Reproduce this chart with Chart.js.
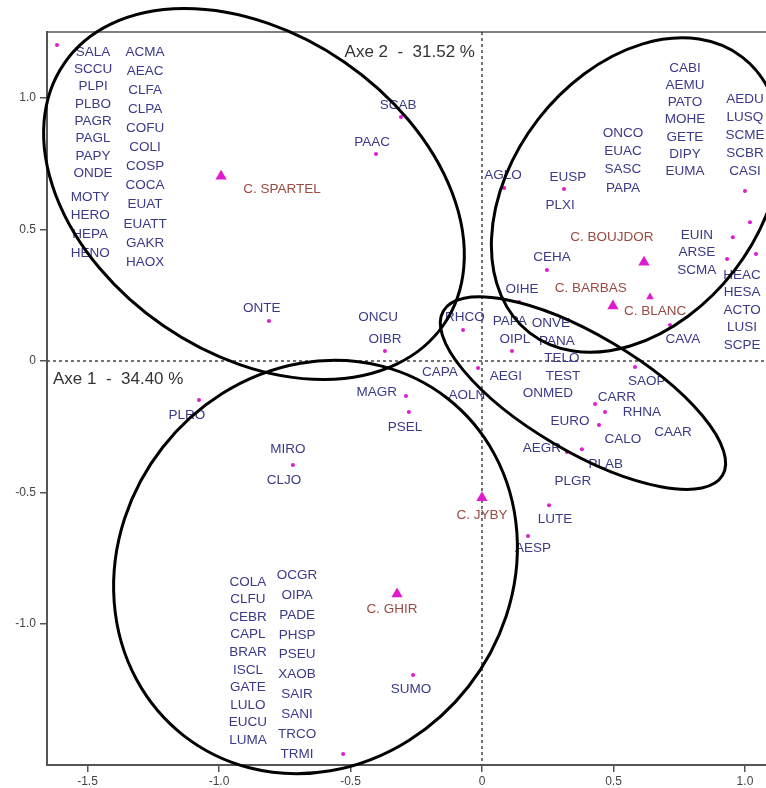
<!DOCTYPE html>
<html>
<head>
<meta charset="utf-8">
<script src="https://cdn.jsdelivr.net/npm/chart.js@4/dist/chart.umd.min.js"></script>
<style>
  body { margin: 0; background: #fff; }
  #wrap { width: 766px; height: 788px; }
</style>
</head>
<body>
<div id="wrap"><canvas id="afc" width="766" height="788"></canvas></div>
<script>
// species points (axe 1, axe 2)
const dotX = [-1.616, -0.308, -0.403, -0.810, -0.369, -0.289, -0.278, -1.076, -0.719, 0.175, -0.262, -0.528,
              0.255, 0.323, 0.380, 0.247, 0.141, -0.072, 0.114, -0.015, 0.084, 0.312,
              1.000, 1.019, 0.954, 1.042, 0.932, 0.715, 0.582, 0.430, 0.468, 0.445];
const dotY = [1.202, 0.928, 0.787, 0.152, 0.038, -0.133, -0.194, -0.148, -0.395, -0.665, -1.194, -1.494,
              -0.548, -0.346, -0.335, 0.346, 0.224, 0.118, 0.038, -0.027, 0.658, 0.654,
              0.646, 0.528, 0.471, 0.407, 0.388, 0.137, -0.023, -0.163, -0.194, -0.243];

// sites (capes)
const siteNames = ['C. SPARTEL', 'C. BOUJDOR', 'C. BARBAS', 'C. BLANC', 'C. JYBY', 'C. GHIR'];
const siteX = [-0.992, 0.616, 0.498, 0.639, 0.000, -0.323];
const siteY = [0.703, 0.376, 0.209, 0.243, -0.520, -0.886];
const siteBig = [true, true, true, false, true, true];
const siteLabelX = [-0.760, 0.494, 0.414, 0.658, 0.000, -0.342];
const siteLabelY = [0.654, 0.471, 0.278, 0.190, -0.586, -0.943];

// single species labels
const labelText = ['SCAB', 'PAAC', 'ONTE', 'ONCU', 'OIBR', 'MAGR', 'PSEL', 'PLRO', 'MIRO', 'CLJO', 'SUMO',
                   'AESP', 'LUTE', 'PLGR', 'PLAB', 'AEGR', 'CALO', 'CAAR', 'EURO', 'RHNA', 'CARR', 'SAOP',
                   'ONMED', 'AEGI', 'TEST', 'TELO', 'PANA', 'OIPL', 'PAPA', 'ONVE', 'RHCO', 'CAPA', 'AOLN',
                   'OIHE', 'CEHA', 'CAVA', 'AGLO', 'EUSP', 'PLXI'];
const labelX = [-0.319, -0.418, -0.837, -0.395, -0.369, -0.400, -0.293, -1.122, -0.738, -0.753, -0.270,
                0.194, 0.278, 0.346, 0.471, 0.228, 0.536, 0.726, 0.335, 0.608, 0.513, 0.627,
                0.251, 0.091, 0.308, 0.304, 0.285, 0.125, 0.106, 0.262, -0.065, -0.160, -0.057,
                0.152, 0.266, 0.764, 0.080, 0.327, 0.297];
const labelY = [0.973, 0.833, 0.200, 0.167, 0.084, -0.118, -0.251, -0.205, -0.335, -0.452, -1.247,
                -0.711, -0.601, -0.456, -0.392, -0.331, -0.297, -0.270, -0.228, -0.194, -0.137, -0.076,
                -0.122, -0.057, -0.057, 0.011, 0.076, 0.084, 0.152, 0.144, 0.167, -0.042, -0.130,
                0.274, 0.395, 0.084, 0.707, 0.700, 0.593];

// stacked label columns (superimposed species)
const stackNames = [
  ['SALA', 'SCCU', 'PLPI', 'PLBO', 'PAGR', 'PAGL', 'PAPY', 'ONDE'],
  ['MOTY', 'HERO', 'HEPA', 'HENO'],
  ['ACMA', 'AEAC', 'CLFA', 'CLPA', 'COFU', 'COLI', 'COSP', 'COCA', 'EUAT', 'EUATT', 'GAKR', 'HAOX'],
  ['COLA', 'CLFU', 'CEBR', 'CAPL', 'BRAR', 'ISCL', 'GATE', 'LULO', 'EUCU', 'LUMA'],
  ['OCGR', 'OIPA', 'PADE', 'PHSP', 'PSEU', 'XAOB', 'SAIR', 'SANI', 'TRCO', 'TRMI'],
  ['CABI', 'AEMU', 'PATO', 'MOHE', 'GETE', 'DIPY', 'EUMA'],
  ['ONCO', 'EUAC', 'SASC', 'PAPA'],
  ['AEDU', 'LUSQ', 'SCME', 'SCBR', 'CASI'],
  ['EUIN', 'ARSE', 'SCMA'],
  ['HEAC', 'HESA', 'ACTO', 'LUSI', 'SCPE']
];
const stackX = [-1.479, -1.490, -1.281, -0.890, -0.703, 0.772, 0.536, 1.000, 0.817, 0.989];
const stackTop = [1.175, 0.624, 1.175, -0.840, -0.814, 1.114, 0.867, 0.996, 0.479, 0.327];
const stackStep = [0.0658, 0.0710, 0.0726, 0.0669, 0.0757, 0.0654, 0.0696, 0.0684, 0.0665, 0.0665];

// ellipses: centre, semi axes, angle (deg) in axis units
const ellCX = [-0.867, 0.586, 0.384, -0.633];
const ellCY = [0.635, 0.631, -0.122, -0.783];
const ellA = [0.876, 0.662, 0.616, 0.814];
const ellB = [0.608, 0.471, 0.221, 0.738];
const ellAngle = [-34.5, 52.3, -30.5, 52];

const xTicks = [-1.5, -1.0, -0.5, 0, 0.5, 1.0];
const yTicks = [-1.0, -0.5, 0, 0.5, 1.0];

const FONT = '"Liberation Sans", Arial, sans-serif';
const NAVY = '#3a3a88';
const BROWN = '#9a4a40';
const PINK = '#e01ad0';

const overlay = {
  id: 'overlay',
  beforeDatasetsDraw(chart) {
    const { ctx, chartArea: a, scales: { x, y } } = chart;
    ctx.save();
    ctx.strokeStyle = '#555';
    ctx.lineWidth = 1.5;
    ctx.beginPath();
    ctx.moveTo(a.left, a.top);
    ctx.lineTo(a.right, a.top);
    ctx.stroke();
    ctx.setLineDash([3, 3]);
    ctx.strokeStyle = '#444';
    ctx.beginPath();
    ctx.moveTo(x.getPixelForValue(0), a.top);
    ctx.lineTo(x.getPixelForValue(0), a.bottom);
    ctx.moveTo(a.left, y.getPixelForValue(0));
    ctx.lineTo(a.right, y.getPixelForValue(0));
    ctx.stroke();
    ctx.setLineDash([]);

    ctx.fillStyle = '#333';
    ctx.font = '17px ' + FONT;
    ctx.textBaseline = 'middle';
    ctx.textAlign = 'right';
    ctx.fillText('Axe 2  -  31.52 %', x.getPixelForValue(0) - 7, a.top + 20);
    ctx.textAlign = 'left';
    ctx.fillText('Axe 1  -  34.40 %', a.left + 6, y.getPixelForValue(0) + 18);
    ctx.restore();
  },
  afterDatasetsDraw(chart) {
    const { ctx, scales: { x, y } } = chart;
    ctx.save();
    ctx.font = '13.5px ' + FONT;
    ctx.textAlign = 'center';
    ctx.textBaseline = 'middle';
    ctx.fillStyle = NAVY;
    labelText.forEach((t, i) => {
      ctx.fillText(t, x.getPixelForValue(labelX[i]), y.getPixelForValue(labelY[i]));
    });
    stackNames.forEach((names, s) => {
      names.forEach((t, k) => {
        ctx.fillText(t, x.getPixelForValue(stackX[s]), y.getPixelForValue(stackTop[s] - k * stackStep[s]));
      });
    });
    ctx.fillStyle = BROWN;
    siteNames.forEach((t, i) => {
      ctx.fillText(t, x.getPixelForValue(siteLabelX[i]), y.getPixelForValue(siteLabelY[i]));
    });

    // ellipses
    const kx = x.getPixelForValue(1) - x.getPixelForValue(0);
    const ky = y.getPixelForValue(0) - y.getPixelForValue(1);
    ctx.strokeStyle = '#000';
    ctx.lineWidth = 3;
    ellCX.forEach((cx, i) => {
      ctx.beginPath();
      ctx.ellipse(x.getPixelForValue(cx), y.getPixelForValue(ellCY[i]),
                  ellA[i] * kx, ellB[i] * ky, -ellAngle[i] * Math.PI / 180, 0, 2 * Math.PI);
      ctx.stroke();
    });
    ctx.restore();
  }
};

const fmt = v => (v === 0 ? '0' : v.toFixed(1));

new Chart(document.getElementById('afc'), {
  type: 'scatter',
  data: {
    datasets: [{
      data: dotX.map((v, i) => ({ x: v, y: dotY[i] })),
      pointStyle: 'circle',
      pointRadius: 2,
      backgroundColor: PINK,
      borderWidth: 0
    }, {
      data: siteX.map((v, i) => ({ x: v, y: siteY[i] })),
      pointStyle: 'triangle',
      pointRadius: siteBig.map(b => (b ? 6.5 : 4.5)),
      backgroundColor: PINK,
      borderColor: PINK,
      borderWidth: 0
    }]
  },
  options: {
    responsive: false,
    animation: false,
    layout: { autoPadding: false, padding: { top: 32, right: 0, left: 0, bottom: 0 } },
    plugins: { legend: { display: false }, tooltip: { enabled: false } },
    scales: {
      x: {
        type: 'linear',
        min: -1.654,
        max: 1.08,
        afterBuildTicks: axis => { axis.ticks = xTicks.map(v => ({ value: v })); },
        afterFit: axis => { axis.height = 23; axis.paddingLeft = 0; axis.paddingRight = 0; },
        ticks: { callback: fmt, color: '#444', font: { size: 12, family: FONT }, padding: 2, maxRotation: 0 },
        grid: { drawOnChartArea: false, drawTicks: true, tickLength: 7, color: '#555', lineWidth: 1.5 },
        border: { display: true, color: '#555', width: 2 }
      },
      y: {
        type: 'linear',
        min: -1.536,
        max: 1.251,
        afterBuildTicks: axis => { axis.ticks = yTicks.map(v => ({ value: v })); },
        afterFit: axis => { axis.width = 47; axis.paddingTop = 0; axis.paddingBottom = 0; },
        ticks: { callback: fmt, color: '#444', font: { size: 12, family: FONT }, padding: 4 },
        grid: { drawOnChartArea: false, drawTicks: true, tickLength: 7, color: '#555', lineWidth: 1.5 },
        border: { display: true, color: '#555', width: 2 }
      }
    }
  },
  plugins: [overlay]
});
</script>
</body>
</html>
